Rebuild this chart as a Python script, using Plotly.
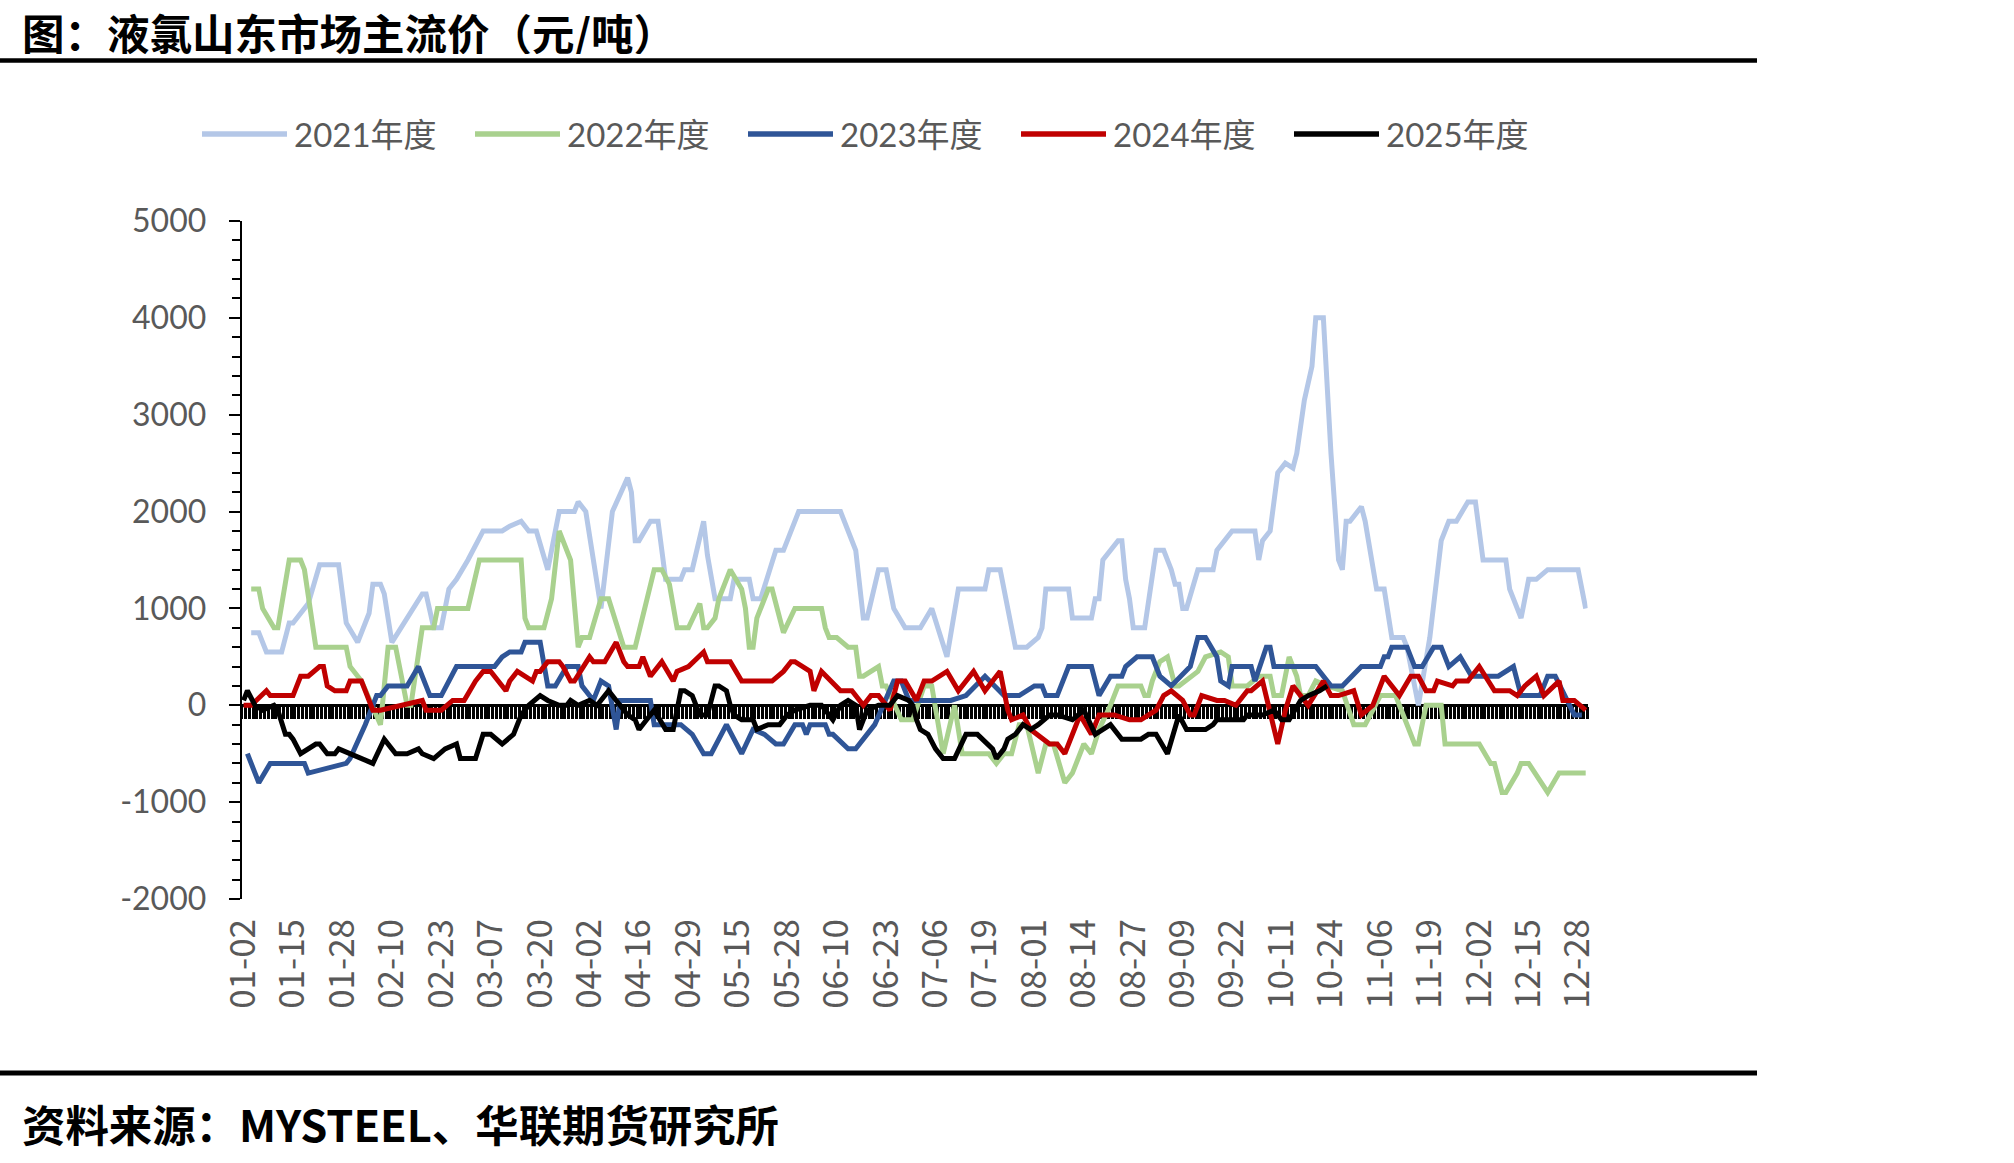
import plotly.graph_objects as go
import pandas as pd

W, H = 2014, 1163

# ---------------- categories (MM-DD dates present on the category axis) ----------------
_days = pd.date_range("2024-01-02", "2024-12-30", freq="D").strftime("%m-%d")
missing_days = ["04-04", "05-01", "05-02", "05-03",
                "10-01", "10-02", "10-03", "10-04", "10-05", "10-06"]
categories = [d for d in _days if d not in missing_days]

tick_labels = ["01-02", "01-15", "01-28", "02-10", "02-23", "03-07", "03-20", "04-02",
               "04-16", "04-29", "05-15", "05-28", "06-10", "06-23", "07-06", "07-19",
               "08-01", "08-14", "08-27", "09-09", "09-22", "10-11", "10-24", "11-06",
               "11-19", "12-02", "12-15", "12-28"]

y_tick_vals = [-2000, -1000, 0, 1000, 2000, 3000, 4000, 5000]
y_tick_text = ["-2000", "-1000", "0", "1000", "2000", "3000", "4000", "5000"]

series_names = ["2021年度", "2022年度", "2023年度", "2024年度", "2025年度"]
series_colors = ["#B4C7E7", "#A9D18E", "#2F5597", "#C00000", "#000000"]

# ---------------- series: (category index of each vertex, value in 元/吨) ----------------
pos_2021 = [2, 4, 6, 10, 12, 13, 17, 20, 25, 27, 30, 33, 34, 36, 37, 39, 47, 48, 50, 52, 54, 56, 59, 63, 68,
            70, 73, 75, 77, 80, 83, 87, 88, 90, 94, 97, 101, 102, 103, 104, 107, 109, 111, 115, 116, 118,
            121, 122, 124, 128, 129, 133, 134, 136, 140, 142, 146, 157, 161, 163, 164, 167, 169, 171, 174,
            178, 181, 184, 185, 188, 195, 196, 199, 203, 206, 209, 210, 211, 217, 218, 223, 224, 225, 226,
            228, 230, 231, 232, 233, 234, 237, 240, 242, 244, 245, 246, 247, 248, 251, 255, 256, 260, 266,
            267, 268, 270, 271, 272, 274, 276, 277, 279, 281, 282, 284, 286, 288, 289, 290, 291, 294, 295,
            298, 300, 302, 305, 306, 309, 312, 315, 317, 319, 322, 324, 326, 332, 333, 336, 338, 340, 343,
            351, 353]
val_2021 = [750, 750, 550, 550, 850, 850, 1050, 1450, 1450, 850, 650, 950, 1250, 1250, 1150, 650, 1150, 1150,
            800, 800, 1200, 1300, 1500, 1800, 1800, 1850, 1900, 1800, 1800, 1400, 2000, 2000, 2100, 2000,
            1000, 2000, 2350, 2200, 1700, 1700, 1900, 1900, 1300, 1300, 1400, 1400, 1900, 1550, 1100, 1100,
            1300, 1300, 1100, 1100, 1600, 1600, 2000, 2000, 1600, 900, 900, 1400, 1400, 1000, 800, 800,
            1000, 600, 500, 1200, 1200, 1400, 1400, 600, 600, 700, 800, 1200, 1200, 900, 900, 1100, 1100,
            1500, 1600, 1700, 1700, 1300, 1100, 800, 800, 1600, 1600, 1400, 1250, 1250, 1000, 1000, 1400,
            1400, 1600, 1800, 1800, 1500, 1700, 1800, 2100, 2400, 2500, 2450, 2600, 3150, 3500, 4000, 4000,
            2600, 1500, 1400, 1900, 1900, 2050, 1900, 1200, 1200, 700, 700, 600, 0, 700, 1700, 1900, 1900,
            2100, 2100, 1500, 1500, 1200, 900, 1300, 1300, 1400, 1400, 1000]

pos_2022 = [2, 4, 5, 8, 9, 12, 15, 16, 19, 27, 28, 31, 36, 38, 40, 43, 44, 47, 50, 51, 59, 62, 73, 74, 75, 79,
            81, 83, 86, 88, 89, 91, 94, 96, 100, 103, 108, 110, 112, 114, 117, 120, 121, 122, 124, 125, 128,
            131, 132, 133, 134, 135, 138, 139, 142, 145, 152, 153, 154, 156, 159, 161, 162, 163, 167, 168,
            169, 173, 176, 179, 181, 184, 187, 189, 196, 198, 200, 202, 204, 206, 209, 211, 213, 216, 218,
            220, 221, 223, 225, 228, 230, 236, 237, 238, 239, 241, 243, 245, 246, 251, 253, 257, 259, 260,
            264, 267, 270, 271, 273, 275, 277, 278, 280, 282, 285, 289, 292, 295, 299, 303, 308, 309, 311,
            315, 316, 325, 328, 329, 331, 332, 335, 336, 338, 343, 346, 353]
val_2022 = [1200, 1200, 1000, 800, 800, 1500, 1500, 1400, 600, 600, 400, 250, -200, 600, 600, 0, 0, 800, 800,
            1000, 1000, 1500, 1500, 900, 800, 800, 1100, 1800, 1500, 600, 700, 700, 1100, 1100, 600, 600,
            1400, 1400, 1250, 800, 800, 1050, 800, 800, 900, 1100, 1400, 1200, 1000, 600, 600, 900, 1200,
            1200, 750, 1000, 1000, 800, 700, 700, 600, 600, 300, 300, 400, 200, 200, -150, -150, 200, 200,
            -500, 0, -500, -500, -600, -500, -500, -200, -200, -700, -400, -400, -800, -700, -500, -400,
            -500, -250, 0, 200, 200, 100, 100, 250, 450, 500, 200, 200, 350, 500, 550, 500, 200, 200, 300,
            300, 100, 100, 500, 300, 100, 100, 250, 200, 150, -200, -200, 100, 100, -400, -400, 0, 0, -400,
            -400, -600, -600, -900, -900, -700, -600, -600, -900, -700, -700]

pos_2023 = [1, 4, 7, 16, 17, 27, 28, 31, 32, 35, 36, 38, 43, 46, 49, 52, 56, 66, 68, 70, 73, 74, 78, 80, 82,
            85, 88, 89, 92, 94, 96, 98, 99, 107, 108, 115, 118, 121, 123, 127, 131, 134, 137, 140, 142, 145,
            147, 148, 149, 153, 154, 155, 159, 161, 166, 171, 173, 175, 186, 190, 195, 200, 204, 208, 210,
            211, 214, 217, 223, 225, 228, 231, 232, 235, 239, 241, 244, 249, 251, 253, 256, 257, 259, 260,
            265, 266, 269, 270, 271, 282, 286, 289, 293, 294, 299, 300, 301, 302, 306, 308, 310, 313, 315,
            317, 320, 323, 330, 334, 336, 341, 343, 345, 350, 352]
val_2023 = [-500, -800, -600, -600, -700, -600, -550, -300, -200, 100, 100, 200, 200, 400, 100, 100, 400, 400,
            500, 550, 550, 650, 650, 200, 200, 400, 400, 200, 50, 250, 200, -250, 50, 50, -200, -200, -300,
            -500, -500, -200, -500, -250, -300, -400, -400, -200, -200, -300, -200, -200, -300, -300, -450,
            -450, -200, 250, 250, 50, 50, 100, 300, 100, 100, 200, 200, 100, 100, 400, 400, 100, 300, 300,
            400, 500, 500, 300, 200, 400, 700, 700, 500, 250, 200, 400, 400, 250, 600, 600, 400, 400, 200,
            200, 350, 400, 400, 500, 500, 600, 600, 400, 400, 600, 600, 400, 500, 300, 300, 400, 100, 100,
            300, 300, -100, -100]

pos_2024 = [0, 2, 6, 7, 13, 15, 17, 20, 21, 22, 24, 27, 28, 31, 34, 36, 47, 48, 52, 55, 58, 61, 63, 65, 69,
            70, 72, 74, 76, 77, 78, 80, 83, 84, 86, 87, 91, 92, 95, 98, 100, 101, 104, 105, 107, 110, 113,
            114, 117, 121, 122, 128, 131, 139, 142, 144, 145, 149, 150, 152, 157, 160, 163, 165, 167, 170,
            172, 174, 177, 179, 181, 185, 188, 192, 195, 197, 199, 201, 202, 205, 207, 212, 214, 216, 220,
            223, 225, 229, 233, 236, 240, 242, 244, 247, 249, 250, 252, 256, 258, 261, 264, 265, 268, 272,
            274, 276, 278, 280, 284, 286, 288, 292, 294, 297, 300, 304, 307, 309, 311, 313, 314, 318, 319,
            322, 325, 329, 333, 335, 337, 340, 342, 346, 347, 350, 353]
val_2024 = [0, 0, 150, 100, 100, 300, 300, 400, 400, 200, 150, 150, 250, 250, -50, -50, 50, -50, -50, 50, 50,
            250, 350, 350, 150, 250, 350, 300, 250, 350, 350, 450, 450, 400, 250, 250, 500, 450, 450, 650,
            450, 400, 400, 500, 300, 450, 250, 350, 400, 550, 450, 450, 250, 250, 350, 450, 450, 350, 150,
            350, 150, 150, 0, 100, 100, -50, 250, 250, 50, 250, 250, 350, 150, 350, 150, 250, 350, -50, -150,
            -100, -250, -400, -400, -500, -100, -300, -100, -100, -150, -150, -50, 100, 150, 50, -100, -100,
            100, 50, 50, 0, 150, 150, 250, -400, -50, 200, 100, 0, 250, 100, 100, 150, -100, 0, 300, 100,
            300, 300, 150, 150, 250, 200, 250, 250, 400, 150, 150, 100, 200, 300, 100, 250, 50, 50, -50]

pos_2025 = [0, 1, 3, 5, 8, 9, 11, 12, 13, 15, 19, 20, 22, 24, 25, 34, 37, 40, 43, 46, 47, 50, 53, 56, 57, 61,
            63, 65, 68, 71, 73, 75, 78, 80, 83, 85, 86, 88, 91, 93, 96, 97, 99, 101, 103, 104, 106, 108, 111,
            113, 115, 116, 118, 120, 122, 124, 125, 127, 128, 129, 131, 134, 135, 138, 141, 143, 145, 149,
            152, 155, 157, 159, 161, 162, 164, 167, 170, 172, 175, 176, 177, 178, 180, 182, 184, 187, 190,
            193, 197, 198, 200, 201, 203, 205, 207, 209, 212, 214, 218, 221, 224, 228, 231, 236, 238, 240,
            243, 246, 248, 253, 255, 256, 263, 264, 268, 271, 273, 275, 278, 280, 283, 285]
val_2025 = [50, 150, 0, -50, 0, -50, -300, -300, -350, -500, -400, -400, -500, -500, -450, -600, -350, -500,
            -500, -450, -500, -550, -450, -400, -550, -550, -300, -300, -400, -300, -100, 0, 100, 50, 0, 0,
            50, 0, 50, 0, 150, 100, 0, -100, -150, -250, -150, -50, -250, -250, 150, 150, 100, -100, -100,
            200, 200, 150, 0, -100, -150, -150, -250, -200, -200, -100, -50, 0, 0, -150, 0, 50, 0, -250, -50,
            0, 0, 100, 50, 0, -150, -250, -300, -450, -550, -550, -300, -300, -450, -550, -450, -350, -300,
            -200, -250, -200, -100, -100, -150, -50, -300, -200, -350, -350, -300, -300, -500, -100, -250,
            -250, -200, -150, -150, -100, -100, -50, -150, -150, 50, 100, 150, 200]

series_pos = [pos_2021, pos_2022, pos_2023, pos_2024, pos_2025]
series_val = [val_2021, val_2022, val_2023, val_2024, val_2025]

# ---------------- figure ----------------
NUM_FONT = "Lato, 'Noto Sans CJK SC', sans-serif"
CJK_FONT = "'Noto Sans CJK SC', sans-serif"
GREY = "#595959"

n_cat = len(categories)
x_dom = [241.7 / W, 1587.6 / W]
y_dom = [1 - 899 / H, 1 - 221 / H]
y_min, y_max = -2000, 5000
y_zero_pos = y_dom[0] + (0 - y_min) / (y_max - y_min) * (y_dom[1] - y_dom[0])

fig = go.Figure()
# register every category on the axis
fig.add_trace(go.Scatter(x=categories, y=[None] * n_cat, mode="lines",
                         showlegend=False, hoverinfo="skip"))
# carrier for the zero-line category axis (tick comb)
fig.add_trace(go.Scatter(x=list(range(n_cat)), y=[None] * n_cat, xaxis="x2", yaxis="y",
                         mode="lines", showlegend=False, hoverinfo="skip"))
for name, color, pos, val in zip(series_names, series_colors, series_pos, series_val):
    fig.add_trace(go.Scatter(
        x=[categories[i] for i in pos], y=val, mode="lines", name=name,
        line=dict(color=color, width=5), showlegend=False))

fig.update_layout(
    width=W, height=H,
    margin=dict(l=0, r=0, t=0, b=0, pad=0, autoexpand=False),
    paper_bgcolor="white", plot_bgcolor="white",
    showlegend=False,
    xaxis=dict(
        type="category", categoryorder="array", categoryarray=categories,
        range=[-0.5, n_cat - 0.5], domain=x_dom, anchor="y", automargin=False,
        tickmode="array", tickvals=tick_labels, ticktext=tick_labels,
        tickangle=-90, ticks="", showline=False, showgrid=False, zeroline=False,
        tickfont=dict(family=CJK_FONT, size=35, color=GREY),
        ticklabelstandoff=12,
    ),
    xaxis2=dict(
        overlaying="x", anchor="free", position=y_zero_pos, automargin=False,
        type="linear", range=[-0.5, n_cat - 0.5],
        showline=True, linecolor="black", linewidth=3,
        ticks="outside", tickmode="linear", tick0=-0.5, dtick=1,
        ticklen=12, tickwidth=2.5, tickcolor="black",
        showticklabels=False, showgrid=False, zeroline=False, layer="below traces",
    ),
    yaxis=dict(
        range=[y_min, y_max], domain=y_dom, anchor="x", automargin=False,
        tickmode="array", tickvals=y_tick_vals, ticktext=y_tick_text,
        ticks="outside", ticklen=11, tickwidth=2, tickcolor="black",
        showline=True, linecolor="black", linewidth=2,
        showgrid=False, zeroline=False,
        minor=dict(ticks="outside", tick0=y_min, dtick=200, ticklen=8, tickwidth=1.5,
                   tickcolor="black", showgrid=False),
        tickfont=dict(family=NUM_FONT, size=32, color=GREY),
        ticklabelstandoff=16,
    ),
)

shapes = []
annotations = []

# title and source
annotations.append(dict(text="<b>图：液氯山东市场主流价（元/吨）</b>", x=20 / W, y=1 - 31 / H,
                        xref="paper", yref="paper", xanchor="left", yanchor="middle",
                        height=46, valign="middle",
                        showarrow=False, font=dict(family=CJK_FONT, size=42.5, color="black")))
annotations.append(dict(text="<b>资料来源：MYSTEEL、华联期货研究所</b>", x=20 / W, y=1 - 1123 / H,
                        xref="paper", yref="paper", xanchor="left", yanchor="middle",
                        showarrow=False, font=dict(family=CJK_FONT, size=43.4, color="black")))
# rules
for yy, lw in [(60.5, 4.5), (1073, 5)]:
    shapes.append(dict(type="line", xref="paper", yref="paper", x0=0, x1=1757 / W,
                       y0=1 - yy / H, y1=1 - yy / H, line=dict(color="black", width=lw)))

# legend (drawn manually to match long line samples)
leg_y = 1 - 134 / H
for i, (name, color) in enumerate(zip(series_names, series_colors)):
    x0 = 202 + i * 273
    shapes.append(dict(type="line", xref="paper", yref="paper", x0=x0 / W, x1=(x0 + 85) / W,
                       y0=leg_y, y1=leg_y, line=dict(color=color, width=5.5)))
    annotations.append(dict(text=name, x=(x0 + 90) / W, y=leg_y, xref="paper", yref="paper",
                            xanchor="left", yanchor="middle", showarrow=False,
                            font=dict(family=NUM_FONT, size=33, color=GREY)))

fig.update_layout(shapes=shapes, annotations=annotations)
fig.write_html("out.html")
